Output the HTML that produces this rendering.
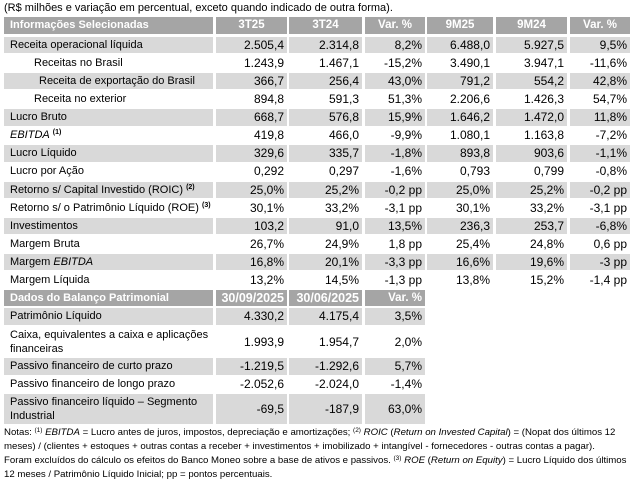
<!DOCTYPE html>
<html><head><meta charset="utf-8">
<style>
html,body{margin:0;padding:0;background:#fff;}
#w{position:relative;width:633px;height:480px;overflow:hidden;font-family:"Liberation Sans",sans-serif;color:#000;}
.t{position:absolute;left:4px;top:1px;font-size:11px;line-height:14px;white-space:nowrap;}
.r{position:absolute;left:0;width:633px;}
.c{position:absolute;top:0;height:100%;box-sizing:border-box;white-space:nowrap;}
.g .c{background:#d9d9d9;}
.h .c{background:#a5a5a5;color:#fff;font-weight:bold;font-size:11.5px;text-align:center;}
.h .c0{font-size:11px;text-align:left;}
.c0{left:4px;width:209px;padding-left:6px;font-size:11px;}
.c1{left:216px;width:71px;}
.c2{left:289px;width:73px;}
.c3{left:365px;width:60px;}
.c4{left:427px;width:66px;}
.c5{left:496px;width:71px;}
.c6{left:570px;width:60px;}
.n{text-align:right;padding-right:3px;font-size:12px;}
.i1{padding-left:30px;}
.i2{padding-left:35px;}
sup.s{font-size:7px;font-weight:bold;vertical-align:4px;line-height:0;}
.h2 .c1,.h2 .c2,.h2 .c3{text-align:right;padding-right:3px;font-size:12.5px;}
.h2 .c3{font-size:11.5px;}
.notes{position:absolute;left:4px;top:426px;font-size:9.65px;line-height:14px;white-space:nowrap;}
.notes sup{font-size:6.5px;vertical-align:3px;line-height:0;}
</style></head><body><div id="w">
<div class="t">(R$ milhões e variação em percentual, exceto quando indicado de outra forma).</div>

<div class="r h" style="top:17px;height:17px;line-height:17px;">
<div class="c c0">Informações Selecionadas</div><div class="c c1">3T25</div><div class="c c2">3T24</div><div class="c c3">Var. %</div><div class="c c4">9M25</div><div class="c c5">9M24</div><div class="c c6">Var. %</div></div>

<div class="r g" style="top:37px;height:16px;line-height:16px;">
<div class="c c0">Receita operacional líquida</div><div class="c c1 n">2.505,4</div><div class="c c2 n">2.314,8</div><div class="c c3 n">8,2%</div><div class="c c4 n">6.488,0</div><div class="c c5 n">5.927,5</div><div class="c c6 n">9,5%</div></div>

<div class="r" style="top:55px;height:16px;line-height:16px;">
<div class="c c0 i1">Receitas no Brasil</div><div class="c c1 n">1.243,9</div><div class="c c2 n">1.467,1</div><div class="c c3 n">-15,2%</div><div class="c c4 n">3.490,1</div><div class="c c5 n">3.947,1</div><div class="c c6 n">-11,6%</div></div>

<div class="r g" style="top:73px;height:16px;line-height:16px;">
<div class="c c0 i2">Receita de exportação do Brasil</div><div class="c c1 n">366,7</div><div class="c c2 n">256,4</div><div class="c c3 n">43,0%</div><div class="c c4 n">791,2</div><div class="c c5 n">554,2</div><div class="c c6 n">42,8%</div></div>

<div class="r" style="top:91px;height:16px;line-height:16px;">
<div class="c c0 i1">Receita no exterior</div><div class="c c1 n">894,8</div><div class="c c2 n">591,3</div><div class="c c3 n">51,3%</div><div class="c c4 n">2.206,6</div><div class="c c5 n">1.426,3</div><div class="c c6 n">54,7%</div></div>

<div class="r g" style="top:109px;height:17px;line-height:17px;">
<div class="c c0">Lucro Bruto</div><div class="c c1 n">668,7</div><div class="c c2 n">576,8</div><div class="c c3 n">15,9%</div><div class="c c4 n">1.646,2</div><div class="c c5 n">1.472,0</div><div class="c c6 n">11,8%</div></div>

<div class="r" style="top:127px;height:17px;line-height:17px;">
<div class="c c0"><i>EBITDA</i> <sup class="s">(1)</sup></div><div class="c c1 n">419,8</div><div class="c c2 n">466,0</div><div class="c c3 n">-9,9%</div><div class="c c4 n">1.080,1</div><div class="c c5 n">1.163,8</div><div class="c c6 n">-7,2%</div></div>

<div class="r g" style="top:145px;height:17px;line-height:17px;">
<div class="c c0">Lucro Líquido</div><div class="c c1 n">329,6</div><div class="c c2 n">335,7</div><div class="c c3 n">-1,8%</div><div class="c c4 n">893,8</div><div class="c c5 n">903,6</div><div class="c c6 n">-1,1%</div></div>

<div class="r" style="top:163px;height:17px;line-height:17px;">
<div class="c c0">Lucro por Ação</div><div class="c c1 n">0,292</div><div class="c c2 n">0,297</div><div class="c c3 n">-1,6%</div><div class="c c4 n">0,793</div><div class="c c5 n">0,799</div><div class="c c6 n">-0,8%</div></div>

<div class="r g" style="top:182px;height:16px;line-height:16px;">
<div class="c c0">Retorno s/ Capital Investido (ROIC) <sup class="s">(2)</sup></div><div class="c c1 n">25,0%</div><div class="c c2 n">25,2%</div><div class="c c3 n">-0,2 pp</div><div class="c c4 n">25,0%</div><div class="c c5 n">25,2%</div><div class="c c6 n">-0,2 pp</div></div>

<div class="r" style="top:200px;height:17px;line-height:17px;">
<div class="c c0">Retorno s/ o Patrimônio Líquido (ROE) <sup class="s">(3)</sup></div><div class="c c1 n">30,1%</div><div class="c c2 n">33,2%</div><div class="c c3 n">-3,1 pp</div><div class="c c4 n">30,1%</div><div class="c c5 n">33,2%</div><div class="c c6 n">-3,1 pp</div></div>

<div class="r g" style="top:218px;height:16px;line-height:16px;">
<div class="c c0">Investimentos</div><div class="c c1 n">103,2</div><div class="c c2 n">91,0</div><div class="c c3 n">13,5%</div><div class="c c4 n">236,3</div><div class="c c5 n">253,7</div><div class="c c6 n">-6,8%</div></div>

<div class="r" style="top:236px;height:17px;line-height:17px;">
<div class="c c0">Margem Bruta</div><div class="c c1 n">26,7%</div><div class="c c2 n">24,9%</div><div class="c c3 n">1,8 pp</div><div class="c c4 n">25,4%</div><div class="c c5 n">24,8%</div><div class="c c6 n">0,6 pp</div></div>

<div class="r g" style="top:254px;height:16px;line-height:16px;">
<div class="c c0">Margem <i>EBITDA</i></div><div class="c c1 n">16,8%</div><div class="c c2 n">20,1%</div><div class="c c3 n">-3,3 pp</div><div class="c c4 n">16,6%</div><div class="c c5 n">19,6%</div><div class="c c6 n">-3 pp</div></div>

<div class="r" style="top:272px;height:17px;line-height:17px;">
<div class="c c0">Margem Líquida</div><div class="c c1 n">13,2%</div><div class="c c2 n">14,5%</div><div class="c c3 n">-1,3 pp</div><div class="c c4 n">13,8%</div><div class="c c5 n">15,2%</div><div class="c c6 n">-1,4 pp</div></div>

<div class="r h h2" style="top:290px;height:16px;line-height:16px;">
<div class="c c0">Dados do Balanço Patrimonial</div><div class="c c1">30/09/2025</div><div class="c c2">30/06/2025</div><div class="c c3">Var. %</div></div>

<div class="r g" style="top:308px;height:17px;line-height:17px;">
<div class="c c0">Patrimônio Líquido</div><div class="c c1 n">4.330,2</div><div class="c c2 n">4.175,4</div><div class="c c3 n">3,5%</div></div>

<div class="r" style="top:327px;height:30px;line-height:30px;">
<div class="c c0" style="line-height:14px;padding-top:1px;">Caixa, equivalentes a caixa e aplicações<br>financeiras</div><div class="c c1 n">1.993,9</div><div class="c c2 n">1.954,7</div><div class="c c3 n">2,0%</div></div>

<div class="r g" style="top:358px;height:17px;line-height:17px;">
<div class="c c0">Passivo financeiro de curto prazo</div><div class="c c1 n">-1.219,5</div><div class="c c2 n">-1.292,6</div><div class="c c3 n">5,7%</div></div>

<div class="r" style="top:376px;height:17px;line-height:17px;">
<div class="c c0">Passivo financeiro de longo prazo</div><div class="c c1 n">-2.052,6</div><div class="c c2 n">-2.024,0</div><div class="c c3 n">-1,4%</div></div>

<div class="r g" style="top:394px;height:30px;line-height:30px;">
<div class="c c0" style="line-height:14px;padding-top:1px;">Passivo financeiro líquido – Segmento<br>Industrial</div><div class="c c1 n">-69,5</div><div class="c c2 n">-187,9</div><div class="c c3 n">63,0%</div></div>

<div class="notes">Notas: <sup>(1)</sup> <i>EBITDA</i> = Lucro antes de juros, impostos, depreciação e amortizações; <sup>(2)</sup> <i>ROIC</i> (<i>Return on Invested Capital</i>) = (Nopat dos últimos 12<br>meses) / (clientes + estoques + outras contas a receber + investimentos + imobilizado + intangível - fornecedores - outras contas a pagar).<br>Foram excluídos do cálculo os efeitos do Banco Moneo sobre a base de ativos e passivos. <sup>(3)</sup> <i>ROE</i> (<i>Return on Equity</i>) = Lucro Líquido dos últimos<br>12 meses / Patrimônio Líquido Inicial; pp = pontos percentuais.</div>
</div></body></html>
